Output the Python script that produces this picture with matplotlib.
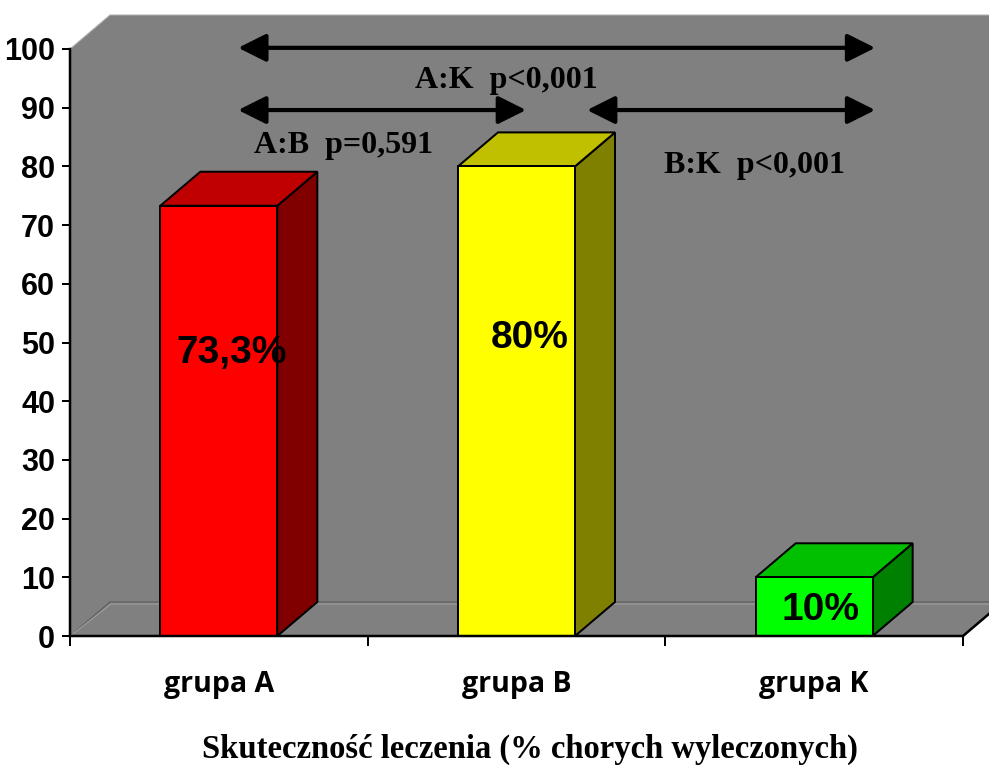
import matplotlib
matplotlib.use("Agg")
import matplotlib.pyplot as plt
from matplotlib.patches import Polygon, FancyArrowPatch
import numpy as np

# ---- data ----
categories = ["grupa A", "grupa B", "grupa K"]
values = [73.3, 80.0, 10.0]
value_labels = ["73,3%", "80%", "10%"]
yticks = [0, 10, 20, 30, 40, 50, 60, 70, 80, 90, 100]
comparison_labels = ["A:K  p<0,001", "A:B  p=0,591", "B:K  p<0,001"]
xlabel = "Skuteczność leczenia (% chorych wyleczonych)"

# ---- style ----
front_colors = ["#FF0000", "#FFFF00", "#00FF00"]
top_colors = ["#C00000", "#C0C000", "#00C000"]
side_colors = ["#800000", "#808000", "#008000"]
wall_color = "#808080"
PX = 72 / 100  # points per pixel
SANS = ["Liberation Sans", "DejaVu Sans"]
SERIF = ["Liberation Serif", "DejaVu Serif"]

W, H, DPI = 989, 765, 100
fig = plt.figure(figsize=(W / DPI, H / DPI), dpi=DPI)
fig.patch.set_facecolor("white")
ax = fig.add_axes([70 / W, 1 - 636 / H, 893 / W, 587 / H])
ax.set_xlim(0, 3)
ax.set_ylim(0, 100)
ax.patch.set_visible(False)

# depth of the pseudo-3D box, in pixels
DX, DY = 40, 34


def shift(x, y, dx=DX, dy=DY):
    p = ax.transData.transform((x, y))
    return tuple(ax.transData.inverted().transform(p + np.array([dx, dy])))


# walls and floor
n = len(categories)
wall = Polygon([(0, 0), (0, 100), shift(0, 100), shift(n, 100), shift(n, 0), (n, 0)],
               closed=True, facecolor=wall_color, edgecolor="none", zorder=0, clip_on=False)
ax.add_patch(wall)
edge_top = [(0, 100), shift(0, 100), shift(n, 100)]
ax.plot(*zip(*edge_top), color="#b0b0b0", lw=1 * PX, zorder=0.5, clip_on=False)

floor_dark = [(0, 0), shift(0, 0), shift(n, 0)]
floor_light = [(0, 0), shift(0, 0, DX + 1, DY - 2), shift(n, 0, DX + 1, DY - 2)]
ax.plot(*zip(*floor_dark), color="#5e5e5e", lw=1.2 * PX, zorder=0.6, clip_on=False)
ax.plot(*zip(*floor_light), color="#a0a0a0", lw=1.0 * PX, zorder=0.6, clip_on=False)
right_edge = [(n, 0), shift(n, 0)]
ax.plot(*zip(*right_edge), color="black", lw=2.5 * PX, zorder=3, clip_on=False,
        solid_capstyle="projecting")

# bars
bw = 0.393
for i, v in enumerate(values):
    xc = i + 0.5
    x0, x1 = xc - bw / 2, xc + bw / 2
    kw = dict(closed=True, edgecolor="black", lw=2 * PX, joinstyle="miter",
              clip_on=False, zorder=2)
    ax.add_patch(Polygon([(x1, 0), shift(x1, 0), shift(x1, v), (x1, v)],
                         facecolor=side_colors[i], **kw))
    ax.add_patch(Polygon([(x0, v), (x1, v), shift(x1, v), shift(x0, v)],
                         facecolor=top_colors[i], **kw))
    ax.add_patch(Polygon([(x0, 0), (x1, 0), (x1, v), (x0, v)],
                         facecolor=front_colors[i], **kw))

# value labels
value_pos = [(0.543, 46.5), (1.544, 49.1), (2.520, 2.7)]
for (x, y), lab in zip(value_pos, value_labels):
    ax.text(x, y, lab, ha="center", va="baseline", fontsize=28, fontweight="bold",
            family=SANS, color="black", zorder=5)

# comparison arrows
arrow_kw = dict(arrowstyle="<|-|>,head_length=17,head_width=8.5", mutation_scale=1,
                color="black", lw=3.0, shrinkA=0, shrinkB=0, zorder=6, clip_on=False)
arrows = [((0.565, 100.2), (2.705, 100.2)),
          ((0.565, 89.6), (1.532, 89.6)),
          ((1.737, 89.6), (2.705, 89.6))]
for a, b in arrows:
    ax.add_patch(FancyArrowPatch(a, b, **arrow_kw))

comp_pos = [(1.465, 93.4), (0.920, 82.3), (2.298, 78.9)]
for (x, y), lab in zip(comp_pos, comparison_labels):
    ax.text(x, y, lab, ha="center", va="baseline", fontsize=23, fontweight="bold",
            family=SERIF, zorder=6)

# axes
for s in ["top", "right"]:
    ax.spines[s].set_visible(False)
for s in ["left", "bottom"]:
    ax.spines[s].set_linewidth(2.5 * PX)
    ax.spines[s].set_zorder(4)
ax.set_yticks(yticks)
ax.set_yticklabels([str(t) for t in yticks], fontsize=22, fontweight="bold", family=SANS)
ax.tick_params(axis="y", direction="out", length=8 * PX, width=2 * PX, pad=7 * PX)
ax.set_xticks(np.arange(n + 1))
ax.set_xticklabels([""] * (n + 1))
ax.tick_params(axis="x", which="major", direction="out", length=10 * PX, width=2 * PX)
ax.set_xticks(np.arange(n) + 0.5, minor=True)
ax.set_xticklabels(categories, minor=True, fontsize=20.5, fontweight="bold",
                   family=["Open Sans", "DejaVu Sans"])
ax.tick_params(axis="x", which="minor", length=0, pad=34 * PX)

fig.text(530 / W, 1 - 758 / H, xlabel, ha="center", va="baseline", fontsize=23.5,
         fontweight="bold", family=SERIF)

fig.savefig("out.png", dpi=DPI, facecolor="white")
